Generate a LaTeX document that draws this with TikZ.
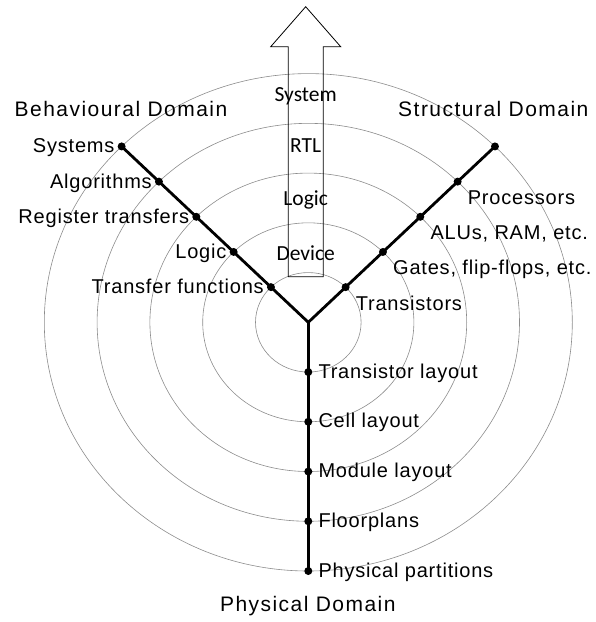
\documentclass[tikz,border=0pt]{standalone}
\usepackage{fontspec}
\setmainfont{Carlito}
\newfontfamily\lblfont[LetterSpace=4]{Liberation Sans}
\newfontfamily\ttlfont[LetterSpace=7]{Liberation Sans}
\begin{document}
\begin{tikzpicture}[x=1pt,y=-1pt,
  ring/.style={draw=black!45, line width=0.6pt},
  arm/.style={line width=2.8pt, line cap=round},
  dot/.style={circle, fill=black, inner sep=0pt, minimum size=8pt},
  lbl/.style={font=\lblfont\fontsize{20}{24}\selectfont, inner sep=0pt},
  ttl/.style={font=\ttlfont\fontsize{21}{25}\selectfont, inner sep=0pt},
  lvl/.style={font=\fontsize{21.5}{25}\selectfont, inner sep=0pt},
  uparrow/.style={draw=black, line width=0.8pt, line join=miter},
]
\useasboundingbox (0,0) rectangle (596,622);
\coordinate (o) at (308.3,322.3);

% concentric level rings
\foreach \k in {1,...,5}
  \draw[ring] (o) ellipse [x radius={\k*52.8pt}, y radius={\k*49.74pt}];

% abstraction arrow
\draw[uparrow] (288.3,276.7) -- (288.3,46.7) -- (270.7,46.7) -- (305.7,6.7)
  -- (340.7,46.7) -- (323.3,46.7) -- (323.3,276.7) -- cycle;
\node[lvl, anchor=base] (lsys) at (305.7,101.7) {System};
\node[lvl, anchor=base] (lrtl) at (305.7,152.7) {RTL};
\node[lvl, anchor=base] (llog) at (305.7,205.7) {Logic};
\node[lvl, anchor=base] (ldev) at (305.7,260.7) {Device};

% points on the three axes
\foreach \k in {1,...,5} {
  \path (o) ++(-37.335*\k,-35.172*\k) node[dot] (b\k) {};
  \path (o) ++(37.335*\k,-35.172*\k) node[dot] (s\k) {};
  \path (o) ++(0,49.74*\k) node[dot] (p\k) {};
}

% axes
\draw[arm] (o) -- (b5.center);
\draw[arm] (o) -- (s5.center);
\draw[arm] (o) -- (p5.center);

% domain titles
\node[ttl, anchor=base] (bdom) at (121,116.7) {Behavioural Domain};
\node[ttl, anchor=base] (sdom) at (493.3,116.7) {Structural Domain};
\node[ttl, anchor=base] (pdom) at (307.8,611) {Physical Domain};

% behavioural labels
\foreach \k/\t in {1/Transfer functions,2/Logic,3/Register transfers,4/Algorithms,5/Systems}
  \node[lbl, anchor=base east] (bl\k) at ([xshift=-7pt,yshift=-6.5pt]b\k.center) {\t};

% structural labels
\foreach \k/\t in {1/Transistors,2/{Gates, flip-flops, etc.},3/{ALUs, RAM, etc.},4/Processors}
  \node[lbl, anchor=base west] (sl\k) at ([xshift=10pt,yshift=-23pt]s\k.center) {\t};

% physical labels
\foreach \k/\t in {1/Transistor layout,2/Cell layout,3/Module layout,4/Floorplans,5/Physical partitions}
  \node[lbl, anchor=base west] (pl\k) at ([xshift=10pt,yshift=-6pt]p\k.center) {\t};
\end{tikzpicture}
\end{document}
